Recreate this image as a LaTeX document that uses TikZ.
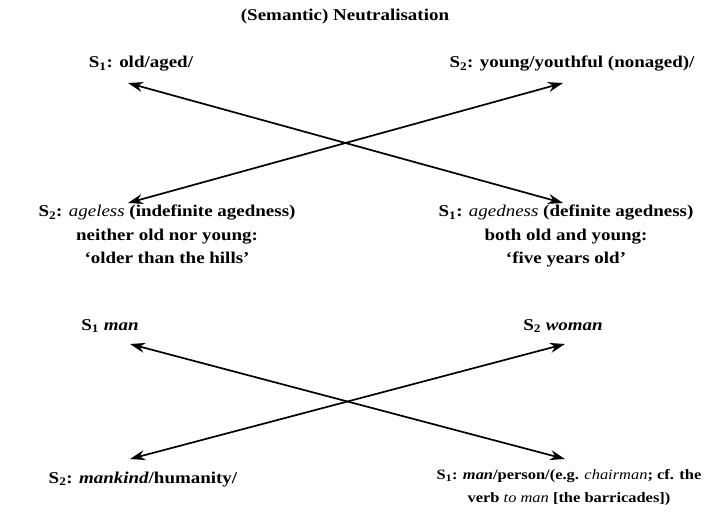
\documentclass[tikz,border=0pt]{standalone}
\usepackage{fontspec}
\setmainfont{Liberation Serif}[FakeStretch=1.15]
\usetikzlibrary{arrows.meta}
\newcommand\medit[1]{{\mdseries\itshape #1}}
\newcommand\boldit[1]{{\itshape #1}}
\begin{document}
\begin{tikzpicture}[x=1pt,y=-1pt,
  lbl/.style={font=\fontsize{16.5}{23.5}\selectfont\bfseries, align=center, inner sep=0pt, anchor=base},
  dbl/.style={{Stealth[length=15pt,width=10pt]}-{Stealth[length=15pt,width=10pt]}, line width=1.7pt}]
\useasboundingbox (0,0) rectangle (722,513);
\node[lbl] (title) at (345,21) {(Semantic) Neutralisation};
% top half
\node[lbl] (s1old) at (141,68) {S\textsubscript{1}: old/aged/};
\node[lbl] (s2young) at (572,68) {S\textsubscript{2}: young/youthful (nonaged)/};
\node[lbl, anchor=north] (s2ageless) at (167,205) {S\textsubscript{2}: \medit{ageless} (indefinite agedness)\\ neither old nor young:\\ ‘older than the hills’};
\node[lbl, anchor=north] (s1agedness) at (566,205) {S\textsubscript{1}: \medit{agedness} (definite agedness)\\ both old and young:\\ ‘five years old’};
\coordinate (a1) at (128,83);
\coordinate (b1) at (563,203);
\coordinate (a2) at (128,203);
\coordinate (b2) at (563,83);
\draw[dbl] (a1) -- (b1);
\draw[dbl] (a2) -- (b2);
% bottom half
\node[lbl] (s1man) at (110,330) {S\textsubscript{1} \boldit{man}};
\node[lbl] (s2woman) at (563,330) {S\textsubscript{2} \boldit{woman}};
\node[lbl] (s2mankind) at (143,483) {S\textsubscript{2}: \boldit{mankind}/humanity/};
\node[lbl, anchor=north, font=\fontsize{14.3}{23.5}\selectfont\bfseries] (s1person) at (569,469) {S\textsubscript{1}: \boldit{man}/person/(e.g. \medit{chairman}; cf. the\\ verb \medit{to man} [the barricades])};
\coordinate (a3) at (130,344);
\coordinate (b3) at (565,459);
\coordinate (a4) at (130,459);
\coordinate (b4) at (565,344);
\draw[dbl] (a3) -- (b3);
\draw[dbl] (a4) -- (b4);
\end{tikzpicture}
\end{document}
